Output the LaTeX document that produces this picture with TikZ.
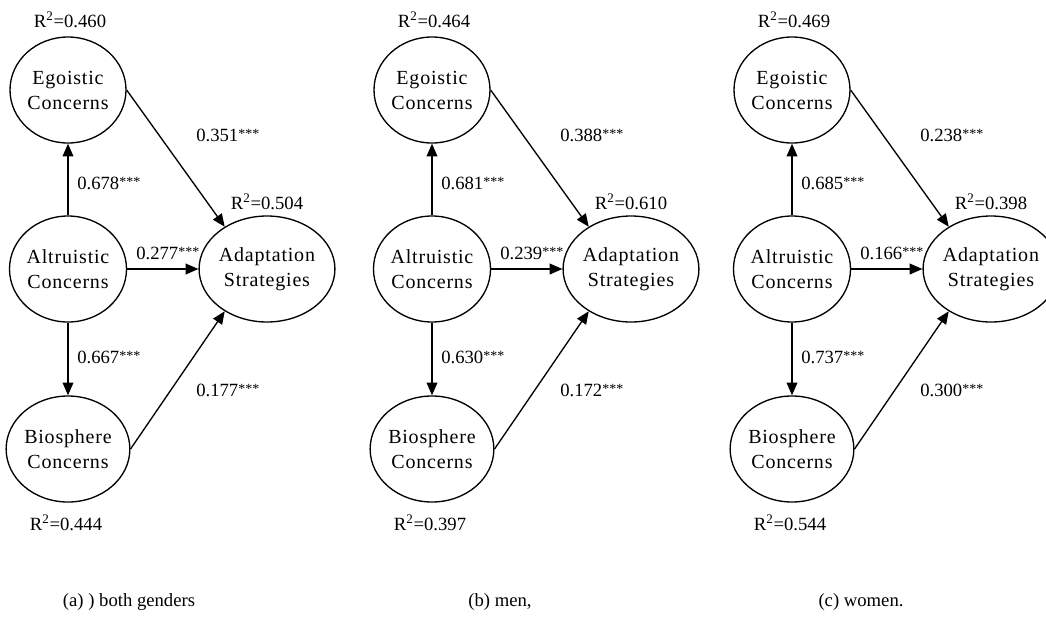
\documentclass[tikz,border=0pt]{standalone}
\usepackage{fontspec}
\setmainfont{Liberation Serif}
\newfontfamily\nodefont[LetterSpace=4]{Liberation Serif}
\usetikzlibrary{arrows.meta,shapes.geometric}
\newcommand{\sigstars}{\raisebox{0.3ex}{\fontsize{10.5}{10.5}\selectfont ***}}
\tikzset{
  latent/.style={draw, line width=1pt, ellipse, minimum width=87pt, minimum height=79.5pt, inner sep=0pt, align=center, font=\nodefont\fontsize{15}{18.75}\selectfont},
  path/.style={line width=1pt, -{Triangle[length=9.5pt,width=8pt]}},
  coef/.style={anchor=west, inner sep=0pt, font=\fontsize{14}{16}\selectfont},
  rsq/.style={inner sep=0pt, font=\fontsize{14}{16}\selectfont},
  captext/.style={inner sep=0pt, font=\fontsize{14}{16}\selectfont}
}
\begin{document}
\begin{tikzpicture}[x=0.75pt, y=-0.75pt]
\useasboundingbox (0,0) rectangle (1046,633);
\foreach \dx/\pre/\rego/\radp/\rbio/\cae/\cea/\caa/\cab/\cba/\capx/\cap in {
  0/a/0.460/0.504/0.444/0.678/0.351/0.277/0.667/0.177/129/{(a) ) both genders},
  364/b/0.464/0.610/0.397/0.681/0.388/0.239/0.630/0.172/500/{(b) men,},
  724/c/0.469/0.398/0.544/0.685/0.238/0.166/0.737/0.300/861/{(c) women.}}{
\begin{scope}[shift={(\dx,0)}, name prefix=\pre-]
  \node[latent] (ego) at (68,90) {Egoistic\\Concerns};
  \node[latent] (alt) at (68,269) {Altruistic\\Concerns};
  \node[latent] (bio) at (68,449) {Biosphere\\Concerns};
  \node[latent] (adp) at (267,269) {Adaptation\\Strategies};
  \draw[path] (alt) -- (ego);
  \draw[path] (alt) -- (bio);
  \draw[path] (alt) -- (adp);
  \draw[path] (ego.east) -- (adp.135);
  \draw[path] (bio.east) -- (adp.225);
  \node[rsq] (rego) at (70,20) {R\textsuperscript{2}=\rego};
  \node[rsq] (radp) at (267,202) {R\textsuperscript{2}=\radp};
  \node[rsq] (rbio) at (66,523) {R\textsuperscript{2}=\rbio};
  \node[coef] (lae) at (77,183) {\cae\sigstars};
  \node[coef] (lea) at (196,135) {\cea\sigstars};
  \node[coef] (laa) at (136,253) {\caa\sigstars};
  \node[coef] (lab) at (77,357) {\cab\sigstars};
  \node[coef] (lba) at (196,390) {\cba\sigstars};
\end{scope}
\node[captext] (cap-\pre) at (\capx,602) {\cap};
}
\end{tikzpicture}
\end{document}
